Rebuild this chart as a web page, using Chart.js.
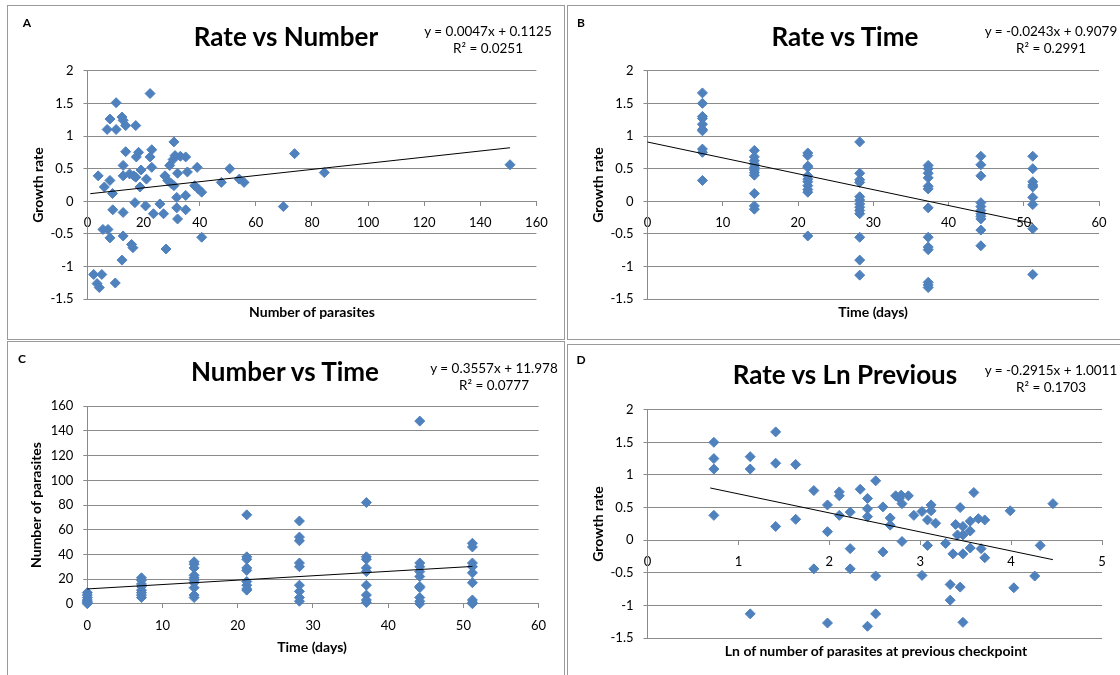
<!DOCTYPE html>
<html>
<head>
<meta charset="utf-8">
<script src="https://cdn.jsdelivr.net/npm/chart.js@4.4.1/dist/chart.umd.min.js"></script>
<style>
html,body{margin:0;padding:0;background:#fff;}
#wrap{position:relative;width:1120px;height:675px;overflow:hidden;background:#fff;font-family:Lato,"Open Sans",sans-serif;}
canvas.c{position:absolute;left:0;top:0;}
.box{position:absolute;border:1px solid #9a9a9a;box-sizing:border-box;}
.t{position:absolute;white-space:nowrap;line-height:1;transform:translate(-50%,-50%);color:#000;}
.letter{font-weight:bold;font-size:12px;}
.title{font-weight:bold;font-size:26px;}
.eq{font-size:13.5px;}
.ax{font-weight:bold;font-size:14px;}
.rot{transform:translate(-50%,-50%) rotate(-90deg);}
</style>
</head>
<body>
<div id="wrap">
  <div class="box" style="left:7px;top:5px;width:558px;height:335px;"></div>
  <div class="box" style="left:567px;top:5px;width:560px;height:335px;"></div>
  <div class="box" style="left:7px;top:341px;width:558px;height:340px;"></div>
  <div class="box" style="left:567px;top:344px;width:560px;height:340px;"></div>
  <canvas class="c" id="cA" width="1120" height="675"></canvas>
  <canvas class="c" id="cB" width="1120" height="675"></canvas>
  <canvas class="c" id="cC" width="1120" height="675"></canvas>
  <canvas class="c" id="cD" width="1120" height="675"></canvas>
</div>
<script>
// ---------- DATA ----------
// Panel A: growth rate vs number of parasites
const aNumber = [2.2,3.4,4.2,5.1,9.9,12.3,3.8,6.0,5.5,7.3,8.0,8.0,8.9,9.0,7.0,8.0,10.2,10.2,12.3,12.7,13.6,17.2,12.7,12.7,12.7,12.7,13.6,15.0,15.7,16.2,16.9,16.5,17.2,17.4,18.2,18.7,19.1,20.7,21.0,22.3,22.3,22.9,22.9,23.5,25.8,27.1,28.0,27.6,28.6,29.3,29.9,30.5,30.8,31.2,30.8,31.8,31.8,32.1,32.1,33.1,35.0,35.0,35.0,35.6,38.2,39.1,39.5,40.7,40.7,47.7,50.7,54.1,55.8,69.8,73.8,84.4,150.6];
const aRate   = [-1.12,-1.26,-1.32,-1.12,-1.25,-0.90,0.39,0.22,-0.43,-0.43,-0.56,0.32,0.12,-0.13,1.10,1.26,1.51,1.10,1.29,1.24,1.16,1.16,-0.17,-0.53,0.39,0.55,0.76,0.42,-0.66,-0.71,-0.02,0.39,0.37,0.68,0.75,0.22,0.48,-0.07,0.34,1.65,0.68,0.79,0.52,-0.19,-0.04,-0.19,-0.73,0.39,0.32,0.55,0.27,0.64,0.91,0.70,0.24,0.06,-0.10,-0.27,0.43,0.69,0.68,0.09,-0.13,0.45,0.24,0.52,0.19,0.14,-0.55,0.29,0.50,0.34,0.29,-0.08,0.73,0.44,0.56];
const trendA = {x:[1.0,150.6], y:[0.1172,0.8203]};

// Panel B: growth rate vs time (days)
const bDays = [7.3,14.2,21.3,28.2,37.3,44.3,51.2];
const bRateByDay = [
  [1.66,1.50,1.30,1.27,1.18,1.10,1.08,0.80,0.75,0.32],
  [0.78,0.68,0.62,0.57,0.52,0.48,0.44,0.40,0.12,-0.07,-0.12],
  [0.74,0.70,0.54,0.52,0.39,0.34,0.30,0.24,0.18,0.14,-0.53],
  [0.91,0.43,0.33,0.29,0.07,0.02,-0.04,-0.09,-0.14,-0.19,-0.55,-0.90,-1.13],
  [0.55,0.50,0.43,0.36,0.23,0.19,-0.10,-0.55,-0.70,-0.74,-1.24,-1.28,-1.32],
  [0.69,0.56,0.39,-0.02,-0.08,-0.14,-0.19,-0.23,-0.27,-0.44,-0.68],
  [0.69,0.50,0.30,0.25,0.22,0.06,-0.05,-0.42,-1.12]
];
const trendB = {x:[0,51.2], y:[0.9079,-0.3363]};

// Panel C: number of parasites vs time (days)
const cDays = [0,7.2,14.2,21.2,28.2,37.1,44.2,51.2];
const cNumberByDay = [
  [9,7,5,3,2,1,0],
  [21,19,16,14,11,9,7,5],
  [34,32,29,23,21,19,17,13,7,5],
  [72,38,36,29,27,18,15,12,11],
  [67,54,51,33,30,15,10,5,2],
  [82,38,36,29,26,15,7,3,1],
  [148,33,30,26,22,14,13,5,2,0],
  [49,46,33,30,25,17,3,1,0]
];
const trendC = {x:[0,51.2], y:[11.978,30.190]};

// Panel D: growth rate vs ln of number at previous checkpoint
const dLnPrev = [0.73,0.73,0.73,0.73,1.13,1.13,1.13,1.41,1.41,1.41,1.63,1.63,1.83,1.83,1.98,1.98,1.98,2.11,2.11,2.11,2.23,2.23,2.23,2.34,2.42,2.42,2.42,2.42,2.51,2.51,2.51,2.59,2.59,2.67,2.67,2.73,2.77,2.79,2.80,2.80,2.87,2.93,3.02,3.02,3.08,3.08,3.12,3.12,3.17,3.28,3.33,3.33,3.36,3.39,3.41,3.44,3.44,3.47,3.47,3.47,3.47,3.55,3.55,3.55,3.59,3.64,3.67,3.71,3.71,3.99,4.03,4.26,4.32,4.46];
const dRate   = [1.50,1.25,1.09,0.38,1.28,1.09,-1.13,1.66,1.18,0.21,1.16,0.32,0.76,-0.44,0.54,0.13,-1.27,0.74,0.68,0.38,0.43,-0.13,-0.44,0.78,0.64,0.48,0.36,-1.32,0.91,-0.55,-1.13,0.51,-0.18,0.34,0.23,0.68,0.64,0.69,0.56,-0.02,0.68,0.38,0.44,-0.54,0.31,-0.08,0.54,0.45,0.26,-0.05,-0.68,-0.92,-0.21,0.24,0.08,0.50,-0.72,0.21,0.08,-0.21,-1.26,0.29,0.14,-0.12,0.73,0.33,-0.13,0.31,-0.27,0.45,-0.73,-0.55,-0.08,0.56];
const trendD = {x:[0.69,4.46], y:[0.7999,-0.2990]};

// Tick labels
const rateTicks   = [-1.5,-1,-0.5,0,0.5,1,1.5,2];
const numberTicks = [0,20,40,60,80,100,120,140,160];
const timeTicks   = [0,10,20,30,40,50,60];
const countTicks  = [0,20,40,60,80,100,120,140,160];
const lnTicks     = [0,1,2,3,4,5];

// ---------- BUILD ----------
const toPts = (xs, ys) => xs.map((x, i) => ({x: x, y: ys[i]}));
const groupPts = (xs, groups) => groups.flatMap((g, i) => g.map(v => ({x: xs[i], y: v})));

const FONT = 'Lato, "Open Sans", sans-serif';
const GRID = '#8a8a8a';
const BLUE = '#4F81BD';
const YW = 60;

function makeChart(id, area, points, trend, xTicks, yTicks) {
  return new Chart(document.getElementById(id), {
    type: 'scatter',
    data: {
      datasets: [
        { type: 'line', data: toPts(trend.x, trend.y), borderColor: '#000', borderWidth: 1,
          pointRadius: 0, pointHoverRadius: 0, fill: false, tension: 0, order: 0, clip: false },
        { data: points, pointStyle: 'rectRot', pointRadius: 5, pointHoverRadius: 5,
          backgroundColor: BLUE, borderColor: BLUE, borderWidth: 1, order: 1, clip: false }
      ]
    },
    options: {
      responsive: false, animation: false, devicePixelRatio: 1,
      events: [],
      layout: { padding: { left: area.l - YW, top: area.t, right: 1120 - area.r, bottom: 675 - area.b } },
      plugins: { legend: { display: false }, tooltip: { enabled: false }, title: { display: false } },
      scales: {
        x: {
          type: 'linear', position: { y: 0 },
          min: xTicks[0], max: xTicks[xTicks.length - 1],
          afterBuildTicks: ax => { ax.ticks = xTicks.map(v => ({ value: v })); },
          grid: { drawOnChartArea: false, drawTicks: true, tickLength: 4, color: GRID },
          border: { display: true, color: GRID, width: 1 },
          ticks: { padding: 10, maxRotation: 0, autoSkip: false, color: '#000',
                   font: { family: FONT, size: 13 }, callback: v => String(v) }
        },
        y: {
          type: 'linear', position: 'left',
          min: yTicks[0], max: yTicks[yTicks.length - 1],
          afterBuildTicks: ax => { ax.ticks = yTicks.map(v => ({ value: v })); },
          afterFit: sc => { sc.width = YW; },
          grid: { drawOnChartArea: true, drawTicks: true, tickLength: 4, color: GRID, lineWidth: 1 },
          border: { display: true, color: GRID, width: 1 },
          ticks: { padding: 10, color: '#000', font: { family: FONT, size: 13 }, callback: v => String(v) }
        }
      }
    }
  });
}

makeChart('cA', {l: 87.5, r: 536.4, t: 70.7, b: 299.3}, toPts(aNumber, aRate), trendA, numberTicks, rateTicks);
makeChart('cB', {l: 647.5, r: 1099, t: 70.7, b: 299.3}, groupPts(bDays, bRateByDay), trendB, timeTicks, rateTicks);
makeChart('cC', {l: 87.3, r: 538.6, t: 406.3, b: 603.7}, groupPts(cDays, cNumberByDay), trendC, timeTicks, countTicks);
makeChart('cD', {l: 647.5, r: 1102, t: 409.7, b: 638}, toPts(dLnPrev, dRate), trendD, lnTicks, rateTicks);

// ---------- TEXT ----------
const wrap = document.getElementById('wrap');
function txt(s, x, y, cls) {
  const d = document.createElement('div');
  d.className = 't ' + cls;
  d.textContent = s;
  d.style.left = x + 'px';
  d.style.top = y + 'px';
  wrap.appendChild(d);
}
// Panel A
txt('A', 27, 23, 'letter');
txt('Rate vs Number', 286, 36, 'title');
txt('y = 0.0047x + 0.1125', 488, 32, 'eq');
txt('R\u00B2 = 0.0251', 488, 49, 'eq');
txt('Growth rate', 38, 185, 'ax rot');
txt('Number of parasites', 312, 312, 'ax');
// Panel B
txt('B', 581, 23, 'letter');
txt('Rate vs Time', 845, 36, 'title');
txt('y = -0.0243x + 0.9079', 1051, 32, 'eq');
txt('R\u00B2 = 0.2991', 1051, 49, 'eq');
txt('Growth rate', 598, 185, 'ax rot');
txt('Time (days)', 873, 312, 'ax');
// Panel C
txt('C', 22, 359, 'letter');
txt('Number vs Time', 285, 371, 'title');
txt('y = 0.3557x + 11.978', 494, 369, 'eq');
txt('R\u00B2 = 0.0777', 494, 386, 'eq');
txt('Number of parasites', 36, 505, 'ax rot');
txt('Time (days)', 312, 647, 'ax');
// Panel D
txt('D', 581, 360, 'letter');
txt('Rate vs Ln Previous', 845, 374, 'title');
txt('y = -0.2915x + 1.0011', 1051, 371, 'eq');
txt('R\u00B2 = 0.1703', 1051, 388, 'eq');
txt('Growth rate', 598, 524, 'ax rot');
txt('Ln of number of parasites at previous checkpoint', 876, 651, 'ax');
</script>
</body>
</html>
